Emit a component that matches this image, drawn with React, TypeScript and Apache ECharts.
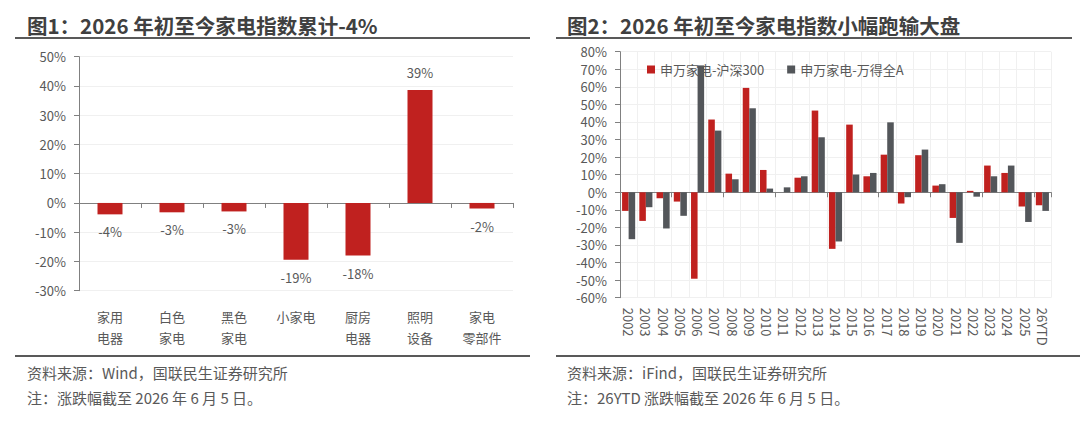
import React, { useEffect, useRef } from "react";
import * as echarts from "echarts";

const leftCategories = ["家用\n电器", "白色\n家电", "黑色\n家电", "小家电", "厨房\n电器", "照明\n设备", "家电\n零部件"];
const leftValues = [-3.9, -3.2, -2.9, -19.4, -18.0, 38.6, -1.9];

const years = ["2002", "2003", "2004", "2005", "2006", "2007", "2008", "2009", "2010", "2011", "2012", "2013", "2014", "2015", "2016", "2017", "2018", "2019", "2020", "2021", "2022", "2023", "2024", "2025", "26YTD"];
const vsHs300 = [-10.6, -16.3, -3.4, -5.3, -49.2, 41.4, 10.6, 59.4, 12.7, 0, 8.3, 46.5, -32.2, 38.5, 9.1, 21.4, -6.4, 21.1, 3.8, -14.6, 0.8, 15.2, 11.0, -8.1, -7.4];
const vsWindA = [-26.7, -8.5, -20.6, -13.4, 72.2, 35.1, 7.4, 47.8, 2.1, 2.8, 9.1, 31.3, -28.0, 10.1, 11.0, 39.8, -2.8, 24.3, 4.6, -28.8, -2.5, 9.1, 15.2, -16.9, -10.6];

const seriesNames = ["申万家电-沪深300", "申万家电-万得全A"];
const title1 = "图1：2026 年初至今家电指数累计-4%";
const title2 = "图2：2026 年初至今家电指数小幅跑输大盘";
const notes1 = ["资料来源：Wind，国联民生证券研究所", "注：涨跌幅截至 2026 年 6 月 5 日。"];
const notes2 = ["资料来源：iFind，国联民生证券研究所", "注：26YTD 涨跌幅截至 2026 年 6 月 5 日。"];

const FONT = '"Noto Sans CJK SC", "Noto Sans", sans-serif';
const RED = "#C0211F";
const GRAY = "#53565A";
const TXT = "#595959";
const AXIS = "#808080";
const GRID = "#F0F0F0";

export default function App() {
  const ref = useRef<HTMLDivElement>(null);
  useEffect(() => {
    document.body.style.margin = "0";
    const chart = echarts.init(ref.current!, null, { renderer: "svg" });
    const pct = (v: number) => v + "%";
    const zeroAxis = (grid: number, data: string[]) => ({
      type: "category",
      gridIndex: grid,
      position: "bottom",
      data,
      axisLine: { show: true, onZero: true, lineStyle: { color: AXIS, width: 1 } },
      axisTick: { show: true, length: 5, lineStyle: { color: AXIS } },
      axisLabel: { show: false },
      splitLine: { show: false },
    });
    const textEl = (text: string, x: number, y: number, font: string, fill: string) => ({
      type: "text",
      x,
      y,
      style: { text, font, fill, verticalAlign: "middle", align: "left" },
    });
    const lineEl = (x: number, y: number, w: number) => ({
      type: "rect",
      shape: { x, y, width: w, height: 2 },
      style: { fill: "#595959" },
    });
    chart.setOption({
      animation: false,
      textStyle: { fontFamily: FONT },
      graphic: [
        textEl(title1, 27, 25, `bold 20.5px ${FONT}`, "#404040"),
        textEl(title2, 567, 25, `bold 20.5px ${FONT}`, "#404040"),
        lineEl(15, 37, 515),
        lineEl(556, 37, 516),
        lineEl(15, 355, 515),
        lineEl(556, 355, 524),
        textEl(notes1[0], 27, 372, `15px ${FONT}`, TXT),
        textEl(notes1[1], 27, 397, `15px ${FONT}`, TXT),
        textEl(notes2[0], 567, 372, `15px ${FONT}`, TXT),
        textEl(notes2[1], 567, 397, `15px ${FONT}`, TXT),
      ],
      legend: {
        left: 642,
        top: 58,
        itemWidth: 8,
        itemHeight: 8,
        itemGap: 23,
        icon: "rect",
        data: seriesNames,
        textStyle: { fontSize: 13, color: TXT, fontFamily: FONT },
      },
      grid: [
        { left: 79, right: 567, top: 56.7, bottom: 130.3 },
        { left: 620, right: 29, top: 51.7, bottom: 123.3 },
      ],
      xAxis: [
        zeroAxis(0, leftCategories),
        {
          type: "category",
          gridIndex: 0,
          position: "bottom",
          data: leftCategories,
          axisLine: { show: false, onZero: false },
          axisTick: { show: false },
          axisLabel: { color: TXT, fontSize: 13, lineHeight: 21, margin: 15, interval: 0 },
          splitLine: { show: false },
        },
        zeroAxis(1, years),
        {
          type: "category",
          gridIndex: 1,
          position: "bottom",
          data: years,
          axisLine: { show: false, onZero: false },
          axisTick: { show: false },
          axisLabel: { color: TXT, fontSize: 13, rotate: -90, margin: 10, interval: 0 },
          splitLine: { show: true, interval: 0, lineStyle: { color: GRID } },
        },
      ],
      yAxis: [
        {
          type: "value",
          gridIndex: 0,
          min: -30,
          max: 50,
          interval: 10,
          axisLine: { show: true, lineStyle: { color: AXIS } },
          axisTick: { show: true, length: 5, lineStyle: { color: AXIS } },
          axisLabel: { color: TXT, fontSize: 13, margin: 13, formatter: pct },
          splitLine: { show: true, lineStyle: { color: GRID } },
        },
        {
          type: "value",
          gridIndex: 1,
          min: -60,
          max: 80,
          interval: 10,
          axisLine: { show: true, lineStyle: { color: AXIS } },
          axisTick: { show: true, length: 5, lineStyle: { color: AXIS } },
          axisLabel: { color: TXT, fontSize: 13, margin: 13, formatter: pct },
          splitLine: { show: true, lineStyle: { color: GRID } },
        },
      ],
      series: [
        {
          type: "bar",
          xAxisIndex: 0,
          yAxisIndex: 0,
          barWidth: 25,
          itemStyle: { color: RED },
          data: leftValues.map((v) => ({
            value: v,
            label: { position: v >= 0 ? "top" : "bottom" },
          })),
          label: {
            show: true,
            distance: 11,
            color: TXT,
            fontSize: 13,
            formatter: (p: any) => Math.round(p.value) + "%",
          },
        },
        {
          name: seriesNames[0],
          type: "bar",
          xAxisIndex: 2,
          yAxisIndex: 1,
          barGap: "0%",
          barCategoryGap: "24%",
          itemStyle: { color: RED },
          data: vsHs300,
        },
        {
          name: seriesNames[1],
          type: "bar",
          xAxisIndex: 2,
          yAxisIndex: 1,
          barGap: "0%",
          barCategoryGap: "24%",
          itemStyle: { color: GRAY },
          data: vsWindA,
        },
      ],
    });
    return () => chart.dispose();
  }, []);
  return <div ref={ref} style={{ width: 1080, height: 421 }} />;
}
